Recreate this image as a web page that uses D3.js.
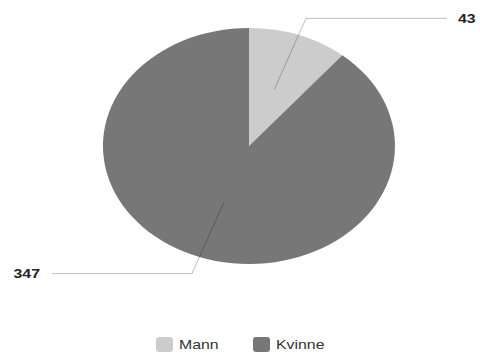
<!DOCTYPE html>
<html>
<head>
<meta charset="utf-8">
<script src="https://cdn.jsdelivr.net/npm/d3@7/dist/d3.min.js"></script>
<style>
  html, body { margin: 0; padding: 0; background: #fff; }
  svg { display: block; font-family: Arial, "Liberation Sans", sans-serif; }
</style>
</head>
<body>
<svg id="chart" width="480" height="354"></svg>
<script>
// Gender split
const categories = ["Mann", "Kvinne"];
const values = [43, 347];
const colors = ["#cccccc", "#777777"];

const W = 480, H = 354;
const cx = 249, cy = 146, rx = 146, ry = 118;
const textStretch = 1.22;

const svg = d3.select("#chart");

const data = categories.map((c, i) => ({ name: c, value: values[i] }));
const pie = d3.pie().sort(null).value(d => d.value);
const arcs = pie(data);

const color = d3.scaleOrdinal().domain(categories).range(colors);

// Unit arc, stretched into an ellipse
const arc = d3.arc().innerRadius(0).outerRadius(1);
svg.append("g")
  .attr("transform", `translate(${cx},${cy}) scale(${rx},${ry})`)
  .selectAll("path")
  .data(arcs)
  .join("path")
  .attr("d", arc)
  .attr("fill", d => color(d.data.name));

// Point on the ellipse at a given angle and relative radius
const pt = (a, r) => [cx + rx * r * Math.sin(a), cy - ry * r * Math.cos(a)];

// Leader lines and value labels
const lineGroup = svg.append("g");
arcs.forEach(d => {
  const mid = (d.startAngle + d.endAngle) / 2;
  const p0 = pt(mid, 0.51);
  const p1 = pt(mid, 1.15);
  const right = Math.sin(mid) > 0;
  const endX = right ? 447 : 52;
  lineGroup.append("polyline")
    .attr("points", [p0, p1, [endX, p1[1]]].map(p => p.join(",")).join(" "))
    .attr("fill", "none")
    .attr("stroke", "rgba(0,0,0,0.25)")
    .attr("stroke-width", 1);

  const tx = right ? 458 : 40;
  lineGroup.append("text")
    .attr("transform", `translate(${tx},${p1[1] + 4.5}) scale(${textStretch},1)`)
    .attr("text-anchor", right ? "start" : "end")
    .attr("font-size", 13)
    .attr("font-weight", "bold")
    .attr("fill", "#222")
    .text(d.value);
});

// Legend
const legendX = [156, 253];
const legend = svg.append("g");
categories.forEach((c, i) => {
  legend.append("rect")
    .attr("x", legendX[i])
    .attr("y", 337)
    .attr("width", 17)
    .attr("height", 15)
    .attr("rx", 3)
    .attr("fill", color(c));
  legend.append("text")
    .attr("transform", `translate(${legendX[i] + 23},${349}) scale(${textStretch},1)`)
    .attr("font-size", 13)
    .attr("fill", "#333")
    .text(c);
});
</script>
</body>
</html>
